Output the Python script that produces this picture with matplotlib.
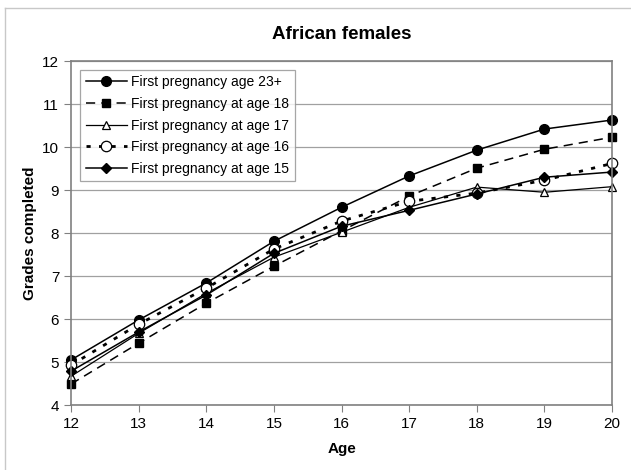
import matplotlib.pyplot as plt
from matplotlib.lines import Line2D

plt.rcParams['font.family'] = ['Liberation Sans', 'DejaVu Sans']

# data
ages = [12, 13, 14, 15, 16, 17, 18, 19, 20]
age_23plus = [5.05, 5.98, 6.84, 7.81, 8.60, 9.33, 9.93, 10.42, 10.63]
age_18 = [4.49, 5.44, 6.37, 7.23, 8.05, 8.86, 9.51, 9.95, 10.23]
age_17 = [4.67, 5.67, 6.60, 7.44, 8.02, 8.60, 9.07, 8.95, 9.08]
age_16 = [4.93, 5.88, 6.72, 7.63, 8.28, 8.74, 8.93, 9.23, 9.62]
age_15 = [4.79, 5.70, 6.56, 7.53, 8.16, 8.53, 8.91, 9.30, 9.42]

labels = ['First pregnancy age 23+', 'First pregnancy at age 18',
          'First pregnancy at age 17', 'First pregnancy at age 16',
          'First pregnancy at age 15']

fig = plt.figure(figsize=(6.31, 4.70), dpi=100)
ax = fig.add_axes([0.1125, 0.138, 0.8575, 0.732])

# light outer chart frame (top and left edges visible)
fig.add_artist(Line2D([5/631, 5/631], [0, 1 - 8/470], color='#c8c8c8', lw=1))
fig.add_artist(Line2D([5/631, 1], [1 - 8/470, 1 - 8/470], color='#c8c8c8', lw=1))

ax.plot(ages, age_23plus, color='black', lw=1.1, ls='-', marker='o',
        ms=7, mfc='black', mec='black', label=labels[0], clip_on=False)
ax.plot(ages, age_18, color='black', lw=1.1, ls=(0, (6, 4)), marker='s',
        ms=5.5, mfc='black', mec='black', label=labels[1], clip_on=False)
ax.plot(ages, age_17, color='black', lw=0.9, ls='-', marker='^',
        ms=6, mfc='white', mec='black', mew=0.9, label=labels[2], clip_on=False)
ax.plot(ages, age_16, color='black', lw=2.0, ls=(0, (1.5, 3)), marker='o',
        ms=7.5, mfc='white', mec='black', mew=0.9, label=labels[3], clip_on=False)
ax.plot(ages, age_15, color='black', lw=1.1, ls='-', marker='D',
        ms=4.8, mfc='black', mec='black', label=labels[4], clip_on=False)

ax.set_xlim(12, 20)
ax.set_ylim(4, 12)
ax.set_xticks(ages)
ax.set_yticks(range(4, 13))
ax.yaxis.grid(True, color='#a0a0a0', lw=0.9)
ax.set_axisbelow(True)
for s in ax.spines.values():
    s.set_color('#808080')
    s.set_linewidth(1.2)
ax.tick_params(axis='both', colors='#808080', labelcolor='black',
               labelsize=11, length=5, direction='out')

ax.set_title('African females', fontsize=13.5, fontweight='bold', pad=16)
ax.set_xlabel('Age', fontsize=11, fontweight='bold', labelpad=8)
ax.set_ylabel('Grades completed', fontsize=11, fontweight='bold', labelpad=4)

leg = ax.legend(loc='upper left', bbox_to_anchor=(0.004, 0.995), fontsize=10,
                frameon=True, fancybox=False, handlelength=3.0,
                handletextpad=0.3, borderpad=0.4, labelspacing=0.55)
leg.get_frame().set_edgecolor('#909090')
leg.get_frame().set_linewidth(0.9)

plt.savefig('out.png', dpi=100)
